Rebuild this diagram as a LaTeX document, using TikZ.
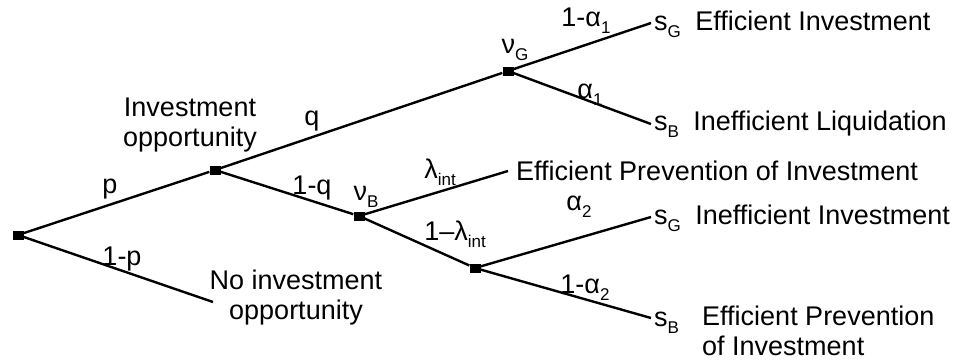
\documentclass[tikz,border=0pt]{standalone}
\usepackage{fontspec}
\setmainfont{Liberation Sans}
\usetikzlibrary{positioning}

% lowered index, as in the drawing
\newcommand{\lowidx}[1]{\raisebox{-0.27em}{\fontsize{17}{17}\selectfont #1}}

\begin{document}
\begin{tikzpicture}[
    x=1pt, y=-1pt,
    node distance=14pt,
    font=\fontsize{27}{30}\selectfont,
    dot/.style={
      rectangle, fill=black, minimum width=11pt, minimum height=9pt,
      inner sep=0pt
    },
    branch/.style={line width=2.4pt},
    prob/.style={inner sep=0pt, anchor=base},
    outcome/.style={inner sep=0pt, align=left}
  ]
    \useasboundingbox (0,0) rectangle (958,360);

    % decision nodes
    \node[dot] (root) at (18,235) {};
    \node[dot] (inv) at (215,170) {};
    \node[dot] (vg) at (508,71) {};
    \node[dot] (vb) at (359,216) {};
    \node[dot] (intv) at (475,268) {};

    % free ends of the branches
    \coordinate (noinv) at (213,302);
    \coordinate (ggood) at (651,23);
    \coordinate (gbad) at (651,124);
    \coordinate (prev) at (508,171);
    \coordinate (bgood) at (651,217);
    \coordinate (bbad) at (651,318);

    \draw[branch] (root) -- (inv);
    \draw[branch] (root) -- (noinv);
    \draw[branch] (inv) -- (vg);
    \draw[branch] (inv) -- (vb);
    \draw[branch] (vg) -- (ggood);
    \draw[branch] (vg) -- (gbad);
    \draw[branch] (vb) -- (prev);
    \draw[branch] (vb) -- (intv);
    \draw[branch] (intv) -- (bgood);
    \draw[branch] (intv) -- (bbad);

    % probabilities
    \node[prob] (lp) at (110,193) {p};
    \node[prob] (lnp) at (122,265) {1-p};
    \node[prob] (lq) at (312,125) {q};
    \node[prob] (lnq) at (312,194) {1-q};
    \node[prob] (lvb) at (366,200) {ν\lowidx{B}};
    \node[prob] (llam) at (440,178) {λ\lowidx{int}};
    \node[prob] (lnlam) at (455,240) {1–λ\lowidx{int}};
    \node[prob] (lvg) at (515,53) {ν\lowidx{G}};
    \node[prob] (lna1) at (586,26) {1-α\lowidx{1}};
    \node[prob] (la1) at (590,98) {α\lowidx{1}};
    \node[prob] (la2) at (579,210) {α\lowidx{2}};
    \node[prob] (lna2) at (585,293) {1-α\lowidx{2}};

    % situations
    \node[outcome, anchor=north, align=center] (invopp) at (190,98) {Investment\\opportunity};
    \node[outcome, anchor=north, align=center] (noopp) at (296,270) {No investment\\opportunity};

    % signals and outcomes
    \node[prob, anchor=base west] (sgg) at (654,30) {s\lowidx{G}};
    \node[outcome, base right=of sgg] (effinv) {Efficient Investment};
    \node[prob, anchor=base west] (sgb) at (654,130) {s\lowidx{B}};
    \node[outcome, base right=of sgb] (ineffliq) {Inefficient Liquidation};
    \node[outcome, right=8pt of prev] (effprev) {Efficient Prevention of Investment};
    \node[prob, anchor=base west] (sbg) at (654,224) {s\lowidx{G}};
    \node[outcome, base right=of sbg] (ineffinv) {Inefficient Investment};
    \node[prob, anchor=base west] (sbb) at (654,326) {s\lowidx{B}};
    \node[outcome, anchor=north west] (effprev2) at (702,306) {Efficient Prevention\\of Investment};
  \end{tikzpicture}
\end{document}
